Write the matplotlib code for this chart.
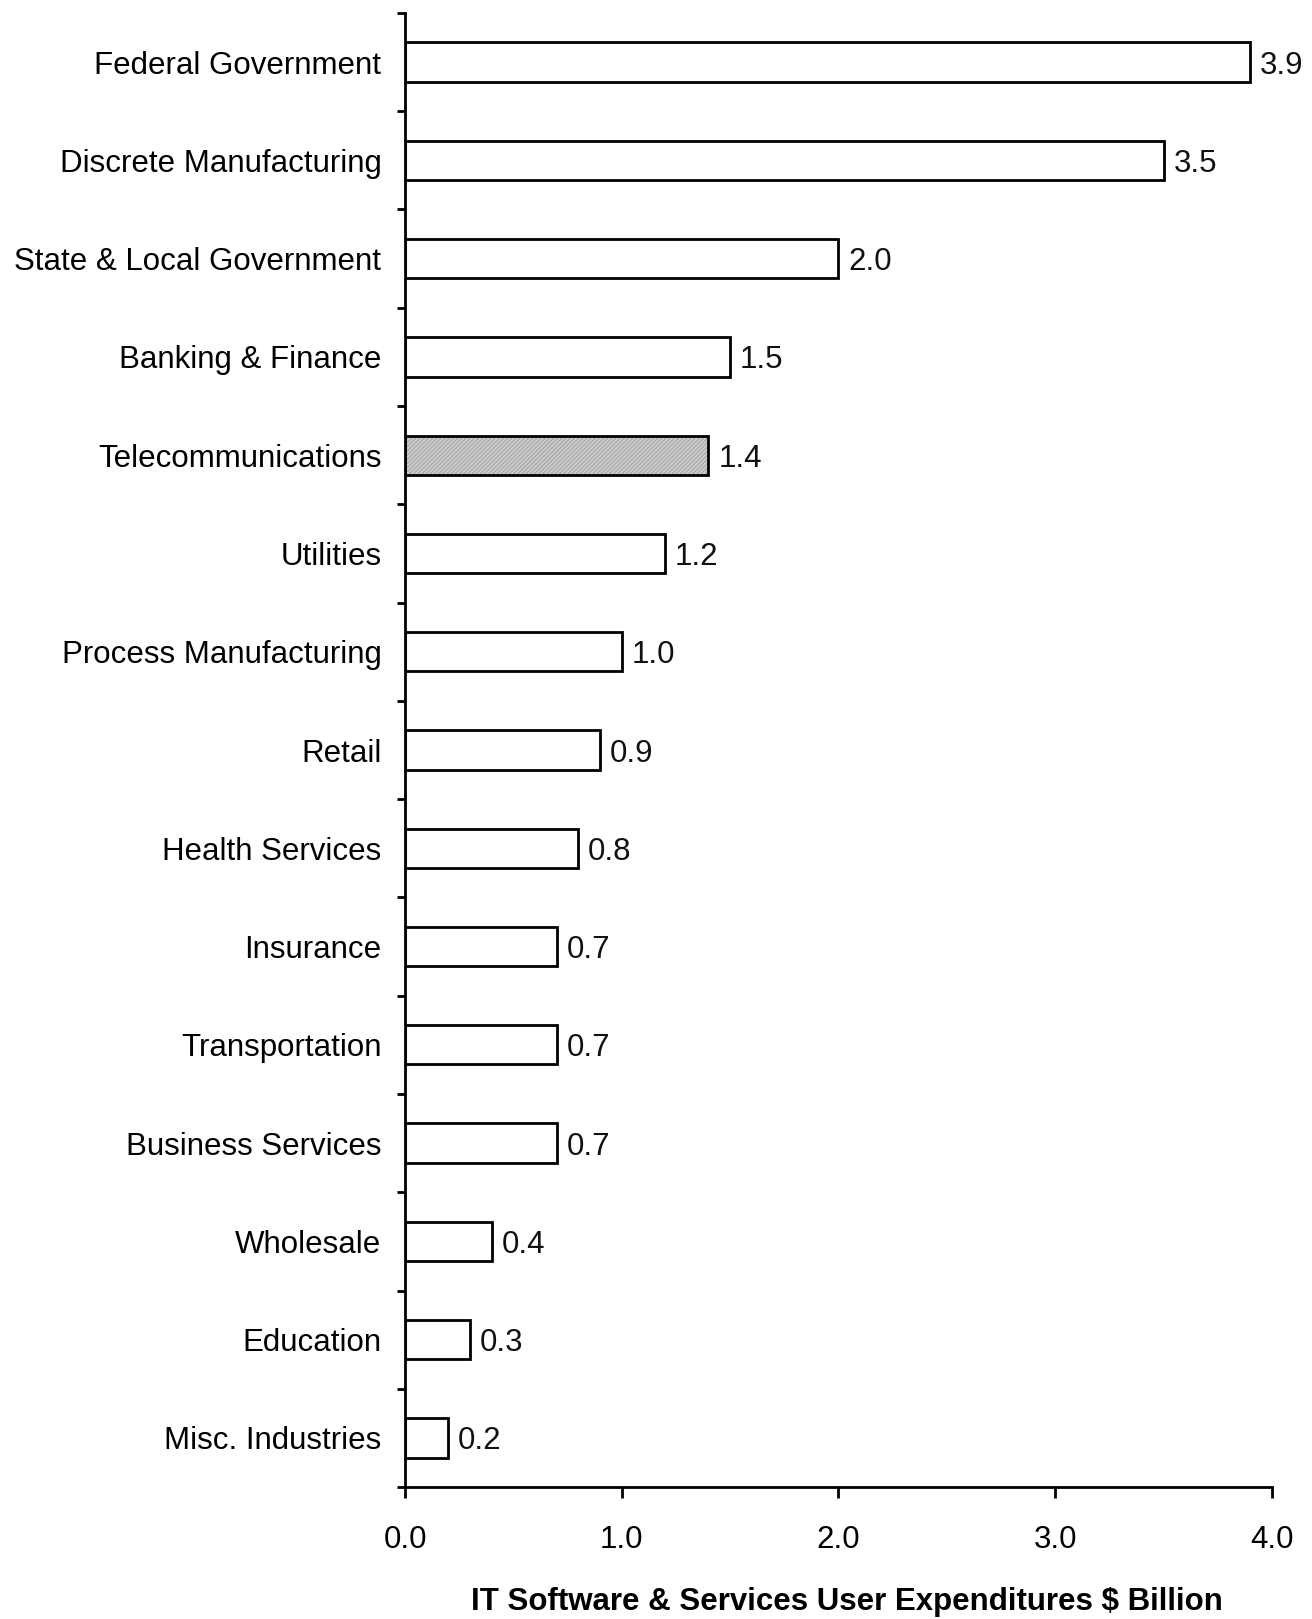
import matplotlib
matplotlib.use("Agg")
import matplotlib.pyplot as plt
import numpy as np

categories = ["Federal Government", "Discrete Manufacturing", "State & Local Government",
              "Banking & Finance", "Telecommunications", "Utilities", "Process Manufacturing",
              "Retail", "Health Services", "Insurance", "Transportation", "Business Services",
              "Wholesale", "Education", "Misc. Industries"]
values = [3.9, 3.5, 2.0, 1.5, 1.4, 1.2, 1.0, 0.9, 0.8, 0.7, 0.7, 0.7, 0.4, 0.3, 0.2]
value_labels = ["3.9", "3.5", "2.0", "1.5", "1.4", "1.2", "1.0", "0.9", "0.8", "0.7", "0.7",
                "0.7", "0.4", "0.3", "0.2"]
highlight = "Telecommunications"
x_ticks = [0.0, 1.0, 2.0, 3.0, 4.0]
x_ticklabels = ["0.0", "1.0", "2.0", "3.0", "4.0"]
x_title = "IT Software & Services User Expenditures $ Billion"

plt.rcParams['font.family'] = ['Liberation Sans', 'DejaVu Sans']
plt.rcParams['hatch.linewidth'] = 0.6

FS = 22.5

fig = plt.figure(figsize=(13.12, 16.19), dpi=100)
ax = fig.add_axes([0.3087, 0.0815, 0.6608, 0.9105])

y = np.arange(len(categories))
face = ['#cbcbcb' if c == highlight else 'white' for c in categories]
ax.barh(y, values, height=0.4, color=face, edgecolor='none', linewidth=0, zorder=2)
# stipple texture for highlighted bar
hl_vals = [v if c == highlight else 0 for c, v in zip(categories, values)]
ax.barh(y, hl_vals, height=0.4, color='none', edgecolor='#9a9a9a', hatch='////////',
        linewidth=0, zorder=3)
ax.barh(y, values, height=0.4, color='none', edgecolor='black', linewidth=2.0, zorder=4)

for yi, v, lab in zip(y, values, value_labels):
    ax.text(v + 0.045, yi, lab, va='center_baseline', ha='left', fontsize=FS, color='#111111')

ax.set_xlim(0, 4.0)
ax.set_ylim(len(categories) - 0.5, -0.5)

ax.set_xticks(x_ticks)
ax.set_xticklabels(x_ticklabels, fontsize=FS)
ax.tick_params(axis='x', direction='out', length=8, width=2, pad=19, colors='black')

ax.set_yticks(np.arange(len(categories) + 1) - 0.5)
ax.set_yticklabels([])
ax.tick_params(axis='y', which='major', direction='out', length=6, width=2)
ax.set_yticks(y, minor=True)
ax.set_yticklabels(categories, minor=True, fontsize=FS, va='center_baseline')
ax.tick_params(axis='y', which='minor', length=0, pad=17)

for s in ['top', 'right']:
    ax.spines[s].set_visible(False)
for s in ['left', 'bottom']:
    ax.spines[s].set_linewidth(2)

fig.text(0.6456, 0.0105, x_title, ha='center', va='center', fontsize=FS, fontweight='bold')

fig.savefig("out.png", dpi=100, facecolor='white')
